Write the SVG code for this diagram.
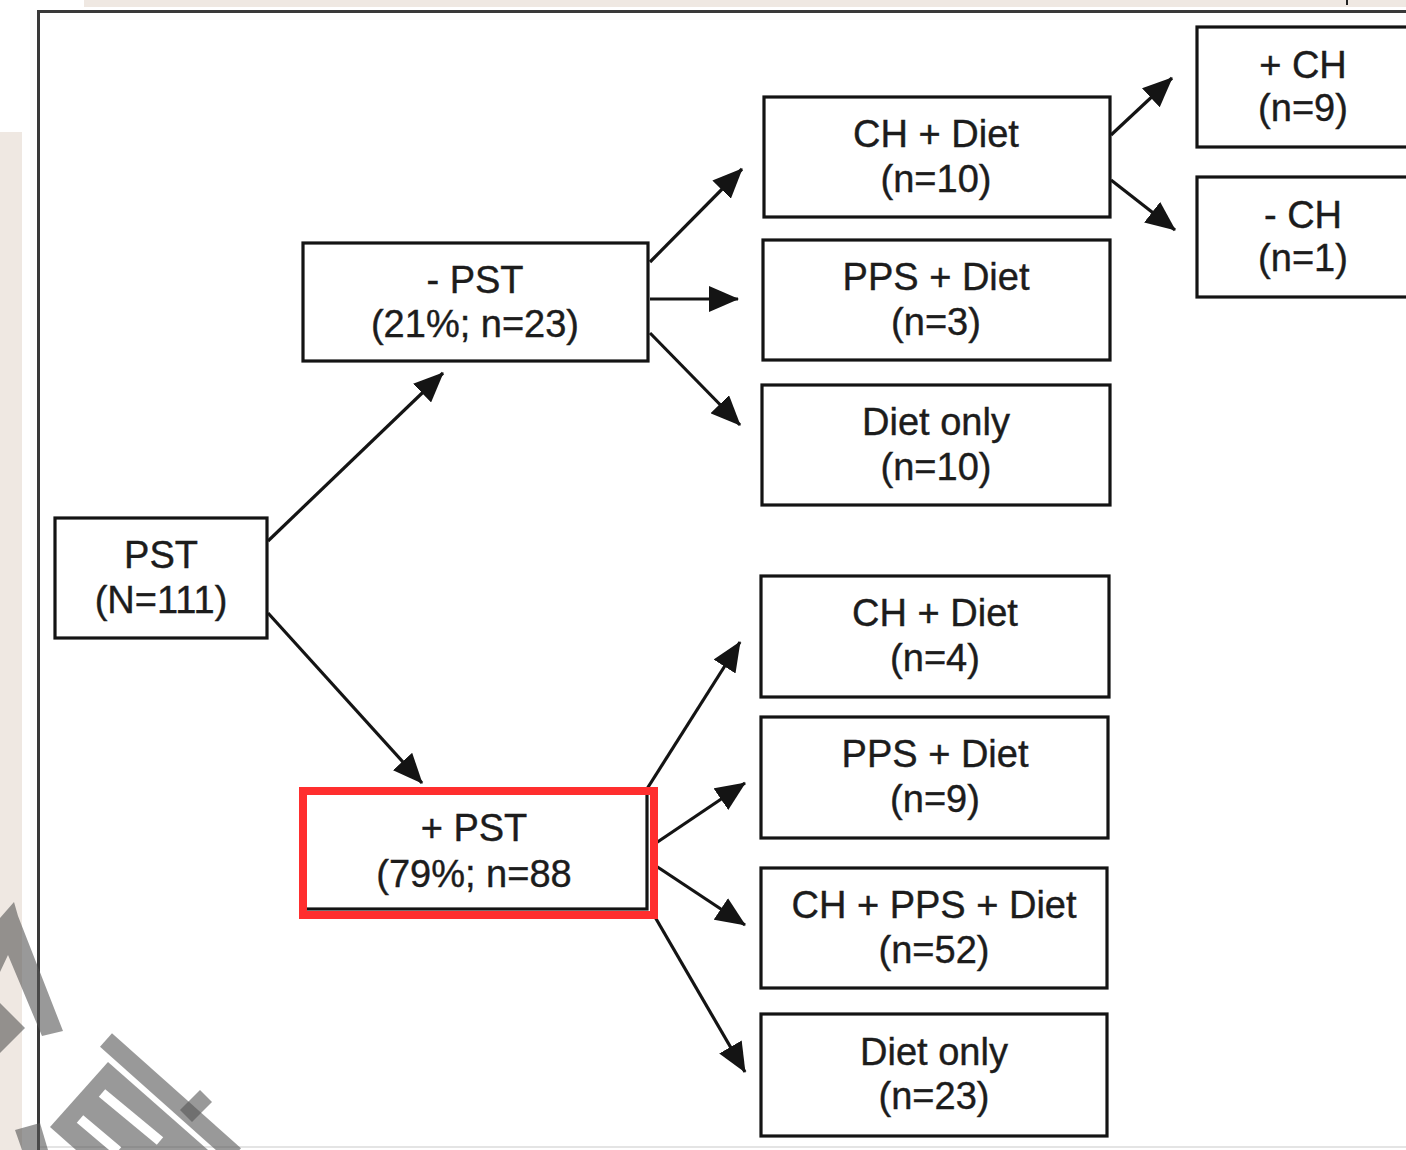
<svg xmlns="http://www.w3.org/2000/svg" width="1406" height="1150" viewBox="0 0 1406 1150">
<defs>
<style>
.box{fill:#ffffff;stroke:#141414;stroke-width:3.2}
.t{font-family:"Liberation Sans",Arial,sans-serif;font-size:38px;fill:#1c1c1c;stroke:#1c1c1c;stroke-width:0.4;text-anchor:middle}
.c{stroke:#141414;stroke-width:3.2;fill:none;marker-end:url(#ah)}
.wm{stroke:#555555;stroke-opacity:0.6;fill:none;stroke-linecap:butt}
.wmf{fill:#555555;fill-opacity:0.6}
</style>
<marker id="ah" markerUnits="userSpaceOnUse" markerWidth="30" markerHeight="26" viewBox="0 0 30 26" refX="29" refY="13" orient="auto">
<path d="M0,0 L30,13 L0,26 z" fill="#141414"/>
</marker>
</defs>
<rect x="0" y="0" width="1406" height="1150" fill="#ffffff"/>
<rect x="84" y="0" width="1322" height="7" fill="#efe8e2"/>
<rect x="0" y="132" width="22" height="1018" fill="#efe8e2"/>
<line x1="1347" y1="0" x2="1347" y2="5" stroke="#222" stroke-width="2"/>
<g id="frame">
<line x1="37" y1="11.5" x2="1406" y2="11.5" stroke="#3a3a3a" stroke-width="3"/>
<line x1="38.5" y1="10" x2="38.5" y2="1150" stroke="#3a3a3a" stroke-width="3"/>
<line x1="40" y1="1147" x2="1406" y2="1147" stroke="#e4e4e4" stroke-width="2"/>
</g>

<g id="connectors">
<line class="c" x1="268" y1="541" x2="443" y2="373"/>
<line class="c" x1="268" y1="613" x2="422" y2="783"/>
<line class="c" x1="650" y1="262" x2="742" y2="169"/>
<line class="c" x1="650" y1="299" x2="738" y2="299"/>
<line class="c" x1="650" y1="333" x2="740" y2="425"/>
<line class="c" x1="1111" y1="135" x2="1172" y2="78"/>
<line class="c" x1="1111" y1="180" x2="1175" y2="230"/>
<line class="c" x1="645" y1="792" x2="740" y2="642"/>
<line class="c" x1="656" y1="843" x2="745" y2="783"/>
<line class="c" x1="656" y1="866" x2="745" y2="925"/>
<line class="c" x1="655" y1="917" x2="745" y2="1072"/>
</g>

<g id="n-pst">
<rect class="box" x="55" y="518" width="212" height="120"/>
<text class="t" x="161" y="568">PST</text>
<text class="t" x="161" y="613">(N=111)</text>
</g>
<g id="n-minus-pst">
<rect class="box" x="303" y="243" width="345" height="118"/>
<text class="t" x="475" y="293">- PST</text>
<text class="t" x="475" y="337">(21%; n=23)</text>
</g>
<g id="n-plus-pst">
<rect class="box" x="303" y="792" width="344" height="117"/>
<text class="t" x="474" y="841">+ PST</text>
<text class="t" x="474" y="887">(79%; n=88</text>
<rect x="303" y="791" width="351" height="124" fill="none" stroke="#ff2e2e" stroke-width="8"/>
</g>
<g id="n-ch-diet-10">
<rect class="box" x="764" y="97" width="346" height="120"/>
<text class="t" x="936" y="147">CH + Diet</text>
<text class="t" x="936" y="192">(n=10)</text>
</g>
<g id="n-pps-diet-3">
<rect class="box" x="763" y="240" width="347" height="120"/>
<text class="t" x="936" y="290">PPS + Diet</text>
<text class="t" x="936" y="335">(n=3)</text>
</g>
<g id="n-diet-only-10">
<rect class="box" x="762" y="385" width="348" height="120"/>
<text class="t" x="936" y="435">Diet only</text>
<text class="t" x="936" y="480">(n=10)</text>
</g>
<g id="n-ch-diet-4">
<rect class="box" x="761" y="576" width="348" height="121"/>
<text class="t" x="935" y="626">CH + Diet</text>
<text class="t" x="935" y="671">(n=4)</text>
</g>
<g id="n-pps-diet-9">
<rect class="box" x="761" y="717" width="347" height="121"/>
<text class="t" x="935" y="767">PPS + Diet</text>
<text class="t" x="935" y="812">(n=9)</text>
</g>
<g id="n-ch-pps-diet-52">
<rect class="box" x="761" y="868" width="346" height="120"/>
<text class="t" x="934" y="918">CH + PPS + Diet</text>
<text class="t" x="934" y="963">(n=52)</text>
</g>
<g id="n-diet-only-23">
<rect class="box" x="761" y="1014" width="346" height="122"/>
<text class="t" x="934" y="1065">Diet only</text>
<text class="t" x="934" y="1109">(n=23)</text>
</g>
<g id="n-plus-ch">
<rect class="box" x="1197" y="27" width="215" height="120"/>
<text class="t" x="1303" y="78">+ CH</text>
<text class="t" x="1303" y="121">(n=9)</text>
</g>
<g id="n-minus-ch">
<rect class="box" x="1197" y="177" width="215" height="120"/>
<text class="t" x="1303" y="228">- CH</text>
<text class="t" x="1303" y="271">(n=1)</text>
</g>

<g id="watermark">
<polygon class="wmf" points="0,918 14,902 18,916 63,1031 42,1036 8,955 0,972"/>
<polygon class="wmf" points="0,1003 25,1028 0,1053"/>
<polygon class="wmf" points="15,1130 40,1123 48,1150 22,1150"/>
<line class="wm" x1="106" y1="1040" x2="235" y2="1155" stroke-width="18"/>
<line class="wm" x1="186" y1="1116" x2="206" y2="1096" stroke-width="17"/>
<polygon class="wmf" points="108,1062 50,1127 76,1150 208,1150"/>
<line x1="102" y1="1093" x2="160" y2="1141" stroke="#ffffff" stroke-width="10"/>
<line x1="80" y1="1119" x2="118" y2="1151" stroke="#ffffff" stroke-width="10"/>
</g>
</svg>
